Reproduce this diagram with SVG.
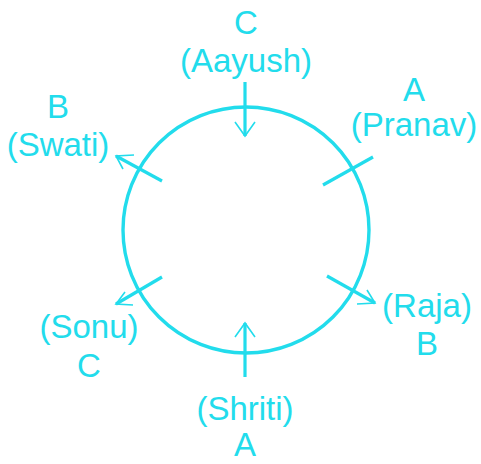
<svg xmlns="http://www.w3.org/2000/svg" width="481" height="464" viewBox="0 0 481 464">
<style>
text{font-family:"Liberation Sans",Arial,sans-serif;font-size:33px;fill:#22dcec;text-anchor:middle}
.c{fill:none;stroke:#22dcec;stroke-width:3.4}
.l{stroke:#22dcec;stroke-width:3.2;fill:none}
.h{stroke:#22dcec;stroke-width:1.6;fill:none}
</style>
<rect width="481" height="464" fill="#fff"/>
<g id="circle"><circle class="c" cx="246" cy="230" r="123"/></g>
<g id="connectors">
<line class="l" x1="245" y1="82" x2="245" y2="136"/>
<polyline class="h" points="235,122 245,136 255,122"/>
<line class="l" x1="162" y1="181" x2="116" y2="156"/>
<polyline class="h" points="134,155 116,156 123,169"/>
<line class="l" x1="323" y1="185" x2="373" y2="157"/>
<line class="l" x1="327" y1="276" x2="375" y2="303"/>
<polyline class="h" points="367,290 375,303 357,304"/>
<line class="l" x1="162" y1="277" x2="116" y2="304"/>
<polyline class="h" points="125,292 116,304 133,305"/>
<line class="l" x1="245" y1="377" x2="245" y2="323"/>
<polyline class="h" points="235,337 245,323 255,337"/>
</g>
<g id="aayush"><text x="246" y="34">C</text><text x="246" y="72">(Aayush)</text></g>
<g id="pranav"><text x="414" y="101">A</text><text x="414" y="136">(Pranav)</text></g>
<g id="raja"><text x="427" y="317">(Raja)</text><text x="427" y="355">B</text></g>
<g id="shriti"><text x="245" y="420">(Shriti)</text><text x="245" y="456">A</text></g>
<g id="sonu"><text x="89" y="338">(Sonu)</text><text x="89" y="377">C</text></g>
<g id="swati"><text x="58" y="118">B</text><text x="58" y="156">(Swati)</text></g>
</svg>
